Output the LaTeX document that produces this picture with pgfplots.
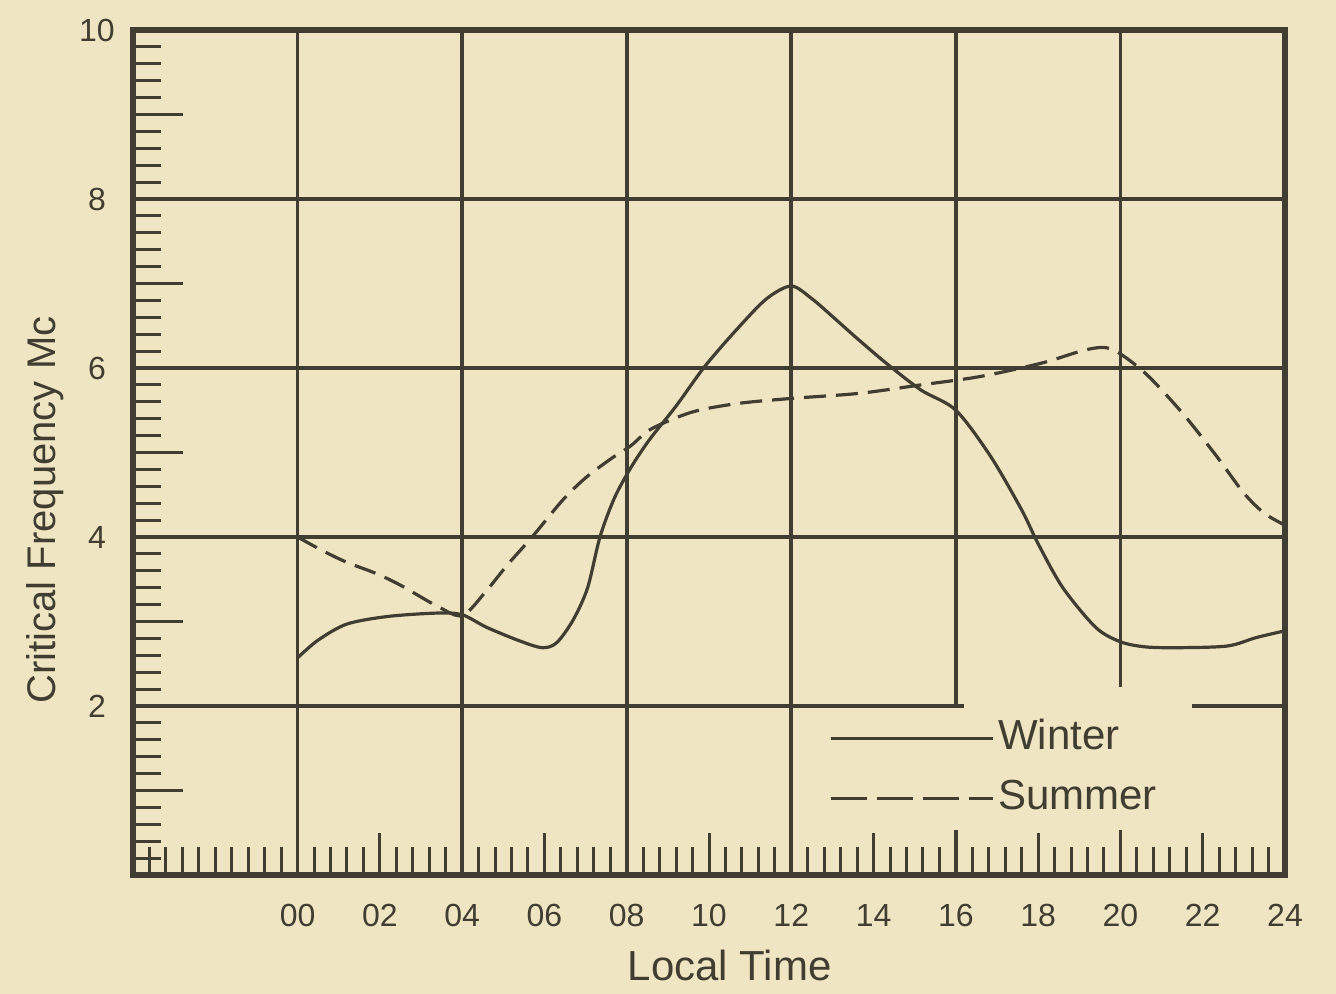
\documentclass[border=0pt]{standalone}
\usepackage{fontspec}
\setmainfont{Liberation Sans}
\usepackage{pgfplots}
\pgfplotsset{compat=1.18}
\usetikzlibrary{backgrounds}
\definecolor{paper}{RGB}{239,229,194}
\definecolor{ink}{RGB}{64,62,50}

\pgfplotstableread{
h v
0 2.57
0.5 2.78
1.2 2.97
2.2 3.06
3.4 3.10
4.0 3.08
4.6 2.93
5.4 2.77
5.95 2.69
6.3 2.75
6.7 3.02
7.05 3.40
7.35 4.0
7.7 4.46
8.1 4.82
8.55 5.15
9.2 5.55
9.9 6.02
10.7 6.47
11.4 6.82
12.0 6.97
12.5 6.82
13.0 6.61
13.6 6.35
14.3 6.06
15.15 5.74
16.0 5.50
16.85 4.95
17.6 4.32
18.0 3.92
18.6 3.40
19.4 2.93
20.0 2.76
20.6 2.70
21.4 2.69
22.6 2.71
23.3 2.81
24.0 2.89
}\winter

\pgfplotstableread{
h v
0 4.0
0.6 3.84
1.2 3.70
1.9 3.57
2.5 3.43
3.4 3.18
4.0 3.07
4.55 3.34
5.1 3.67
5.7 4.0
6.45 4.44
7.0 4.70
7.6 4.92
8.1 5.08
8.6 5.28
9.6 5.48
10.7 5.58
12.0 5.64
13.65 5.70
15.15 5.80
16.6 5.90
18.1 6.06
19.2 6.22
19.8 6.22
20.6 5.94
21.5 5.47
22.3 4.98
23.0 4.52
23.5 4.28
24.0 4.14
}\summer

\begin{document}
\begin{tikzpicture}[show background rectangle, inner frame sep=0pt,
  background rectangle/.style={fill=paper, draw=none}]
\begin{axis}[
  scale only axis, width=288pt, height=211.25pt,
  xmin=-4, xmax=24, ymin=0, ymax=10,
  clip=false,
  axis line style={ink, line width=1.3pt},
  tick align=inside, xtick pos=bottom, ytick pos=left,
  xtick={-4,0,4,...,24}, xticklabels={,00,04,08,12,16,20,24},
  ytick={0,2,...,10}, yticklabels={,2,4,6,8,10},
  minor x tick num=9, minor y tick num=9,
  major tick length=7pt, minor tick length=7pt,
  every tick/.style={ink, line width=0.75pt},
  grid=major,
  major grid style={ink, line width=0.9pt},
  extra x ticks={2,6,10,14,18,22},
  extra x tick labels={02,06,10,14,18,22},
  extra x tick style={grid=none, major tick length=10.5pt},
  extra y ticks={1,3,5,7,9},
  extra y tick labels={},
  extra y tick style={grid=none, major tick length=12.5pt},
  xticklabel style={anchor=center, yshift=-10pt, font=\fontsize{8}{9}\selectfont, text=ink},
  yticklabel style={anchor=center, xshift=-9pt, font=\fontsize{8}{9}\selectfont, text=ink},
  xlabel={Local Time},
  xlabel style={at={(rel axis cs:0.518,-0.1065)}, anchor=center, font=\fontsize{10.5}{12}\selectfont, text=ink},
  ylabel={Critical Frequency Mc},
  ylabel style={at={(rel axis cs:-0.0764,0.432)}, anchor=center, font=\fontsize{10}{12}\selectfont, text=ink},
  legend style={at={(rel axis cs:0.600,0.199)}, anchor=north west, draw=none, fill=paper,
    inner xsep=1pt, inner ysep=2pt, row sep=3.5pt, text=ink,
    font=\fontsize{10.5}{12}\selectfont,
    nodes={inner sep=1pt, text height=7.5pt, text depth=2pt}},
  legend cell align=left,
  legend image code/.code={\draw[#1] (0pt,0pt) -- (40.5pt,0pt);},
]
\fill[paper] (axis cs:16.2,1.6) rectangle (axis cs:21.75,2.23);
\addplot[ink, line width=0.8pt, smooth, tension=0.5] table[x=h, y=v] {\winter};
\addlegendentry{Winter}
\addplot[ink, line width=0.8pt, smooth, tension=0.5, dash pattern=on 5.5pt off 2.5pt,
  legend image post style={dash pattern=on 9pt off 2.5pt}] table[x=h, y=v] {\summer};
\addlegendentry{Summer}
\path (rel axis cs:-0.11545,-0.13491) rectangle (rel axis cs:1.04427,1.03550);
\end{axis}
\end{tikzpicture}
\end{document}
